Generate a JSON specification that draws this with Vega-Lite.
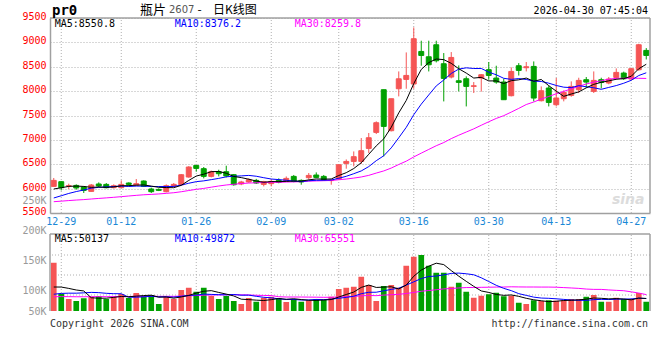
{
"$schema": "https://vega.github.io/schema/vega-lite/v6.json",
"width": 600, "height": 293,
"autosize": {"type": "none"},
"padding": {"left": 50, "top": 18, "right": 10, "bottom": 49},
"background": "#ffffff",
"config": {"view": {"stroke": null}, "text": {"font": "DejaVu Sans Mono", "fontSize": 10}, "axis": {"labelOverlap": false}},
"datasets": {
"e": [{"d": "2026-04-29"}],
"f": [{"d": "2025-12-26"}],
"g": [{"d":"2025-12-29"},{"d":"2026-01-12"},{"d":"2026-01-26"},{"d":"2026-02-09"},{"d":"2026-03-02"},{"d":"2026-03-16"},{"d":"2026-03-30"},{"d":"2026-04-13"},{"d":"2026-04-27"}],
"k": [
{"d":"2025-12-26","o":6046,"h":6218,"l":6040,"c":6169,"v":193000,"m5":5992,"m10":5808,"m30":5732,"vm5":96000,"vm10":67000,"vm30":57000},
{"d":"2025-12-29","o":6142,"h":6150,"l":5964,"c":6019,"v":69000,"m5":6018,"m10":5854,"m30":5743,"vm5":95800,"vm10":70300,"vm30":57600},
{"d":"2025-12-30","o":6055,"h":6101,"l":5992,"c":6060,"v":48000,"m5":6046,"m10":5901,"m30":5755,"vm5":90400,"vm10":71300,"vm30":57400},
{"d":"2025-12-31","o":6066,"h":6087,"l":5978,"c":6013,"v":40000,"m5":6052,"m10":5940,"m30":5766,"vm5":84000,"vm10":71300,"vm30":57000},
{"d":"2026-01-05","o":6033,"h":6046,"l":5910,"c":5964,"v":51000,"m5":6045,"m10":5972,"m30":5775,"vm5":80200,"vm10":72600,"vm30":57000},
{"d":"2026-01-06","o":5943,"h":6095,"l":5940,"c":6074,"v":57000,"m5":6026,"m10":6009,"m30":5787,"vm5":53000,"vm10":74500,"vm30":57200},
{"d":"2026-01-07","o":6095,"h":6128,"l":6033,"c":6054,"v":60000,"m5":6033,"m10":6026,"m30":5799,"vm5":51200,"vm10":73500,"vm30":57400},
{"d":"2026-01-08","o":6087,"h":6115,"l":6005,"c":6019,"v":48000,"m5":6025,"m10":6036,"m30":5810,"vm5":51200,"vm10":70800,"vm30":57300},
{"d":"2026-01-09","o":6019,"h":6087,"l":6005,"c":6060,"v":57000,"m5":6034,"m10":6043,"m30":5822,"vm5":54600,"vm10":69300,"vm30":57500},
{"d":"2026-01-12","o":6019,"h":6169,"l":6010,"c":6087,"v":68000,"m5":6059,"m10":6052,"m30":5835,"vm5":58000,"vm10":69100,"vm30":58000},
{"d":"2026-01-13","o":6115,"h":6128,"l":6060,"c":6087,"v":52000,"m5":6061,"m10":6044,"m30":5849,"vm5":57000,"vm10":55000,"vm30":58000},
{"d":"2026-01-14","o":6074,"h":6197,"l":6070,"c":6101,"v":72000,"m5":6071,"m10":6052,"m30":5862,"vm5":59400,"vm10":55300,"vm30":58700},
{"d":"2026-01-15","o":6156,"h":6169,"l":6033,"c":6046,"v":60000,"m5":6076,"m10":6051,"m30":5874,"vm5":61800,"vm10":56500,"vm30":58900},
{"d":"2026-01-16","o":5992,"h":6019,"l":5910,"c":5937,"v":64000,"m5":6052,"m10":6043,"m30":5882,"vm5":63200,"vm10":58900,"vm30":59300},
{"d":"2026-01-19","o":5984,"h":6005,"l":5950,"c":5964,"v":28000,"m5":6027,"m10":6043,"m30":5891,"vm5":55200,"vm10":56600,"vm30":58500},
{"d":"2026-01-20","o":5937,"h":6087,"l":5923,"c":6060,"v":57000,"m5":6022,"m10":6042,"m30":5903,"vm5":56200,"vm10":56600,"vm30":58700},
{"d":"2026-01-21","o":6046,"h":6115,"l":6030,"c":6087,"v":48000,"m5":6019,"m10":6045,"m30":5916,"vm5":51400,"vm10":55400,"vm30":58600},
{"d":"2026-01-22","o":6080,"h":6300,"l":6075,"c":6285,"v":84000,"m5":6067,"m10":6072,"m30":5936,"vm5":56200,"vm10":59000,"vm30":59600},
{"d":"2026-01-23","o":6238,"h":6460,"l":6225,"c":6443,"v":93000,"m5":6168,"m10":6110,"m30":5961,"vm5":62000,"vm10":62600,"vm30":61000},
{"d":"2026-01-26","o":6476,"h":6480,"l":6347,"c":6415,"v":77000,"m5":6258,"m10":6143,"m30":5985,"vm5":71800,"vm10":63500,"vm30":61800},
{"d":"2026-01-27","o":6409,"h":6443,"l":6210,"c":6251,"v":93000,"m5":6296,"m10":6159,"m30":6004,"vm5":79000,"vm10":67600,"vm30":63200},
{"d":"2026-01-28","o":6251,"h":6370,"l":6230,"c":6347,"v":60000,"m5":6348,"m10":6184,"m30":6030,"vm5":81400,"vm10":66400,"vm30":64000},
{"d":"2026-01-29","o":6347,"h":6388,"l":6251,"c":6306,"v":48000,"m5":6352,"m10":6210,"m30":6054,"vm5":74200,"vm10":65200,"vm30":64300},
{"d":"2026-01-30","o":6347,"h":6470,"l":6230,"c":6260,"v":60000,"m5":6316,"m10":6242,"m30":6075,"vm5":67600,"vm10":64800,"vm30":65000},
{"d":"2026-02-02","o":6286,"h":6300,"l":6060,"c":6080,"v":40000,"m5":6249,"m10":6254,"m30":6089,"vm5":60200,"vm10":66000,"vm30":65100},
{"d":"2026-02-03","o":6095,"h":6160,"l":6070,"c":6136,"v":28000,"m5":6226,"m10":6261,"m30":6104,"vm5":47200,"vm10":63100,"vm30":64700},
{"d":"2026-02-04","o":6136,"h":6210,"l":6120,"c":6183,"v":52000,"m5":6193,"m10":6271,"m30":6114,"vm5":45600,"vm10":63500,"vm30":64100},
{"d":"2026-02-05","o":6169,"h":6200,"l":6095,"c":6115,"v":37000,"m5":6155,"m10":6254,"m30":6120,"vm5":43400,"vm10":58800,"vm30":62900},
{"d":"2026-02-06","o":6087,"h":6160,"l":6046,"c":6142,"v":53000,"m5":6131,"m10":6224,"m30":6125,"vm5":42000,"vm10":54800,"vm30":62200},
{"d":"2026-02-09","o":6101,"h":6190,"l":6046,"c":6148,"v":57000,"m5":6145,"m10":6197,"m30":6130,"vm5":45400,"vm10":52800,"vm30":61800},
{"d":"2026-02-10","o":6169,"h":6210,"l":6110,"c":6128,"v":51000,"m5":6143,"m10":6185,"m30":6129,"vm5":50000,"vm10":48600,"vm30":57100},
{"d":"2026-02-11","o":6148,"h":6250,"l":6140,"c":6210,"v":36000,"m5":6149,"m10":6171,"m30":6135,"vm5":46800,"vm10":46200,"vm30":56000},
{"d":"2026-02-12","o":6251,"h":6280,"l":6130,"c":6148,"v":48000,"m5":6155,"m10":6155,"m30":6138,"vm5":49000,"vm10":46200,"vm30":56000},
{"d":"2026-02-13","o":6169,"h":6190,"l":6080,"c":6136,"v":37000,"m5":6154,"m10":6143,"m30":6142,"vm5":45800,"vm10":43900,"vm30":55900},
{"d":"2026-02-24","o":6224,"h":6320,"l":6183,"c":6271,"v":43000,"m5":6179,"m10":6162,"m30":6153,"vm5":43000,"vm10":44200,"vm30":55600},
{"d":"2026-02-25","o":6279,"h":6333,"l":6220,"c":6230,"v":48000,"m5":6199,"m10":6171,"m30":6158,"vm5":42400,"vm10":46200,"vm30":55300},
{"d":"2026-02-26","o":6251,"h":6280,"l":6160,"c":6183,"v":44000,"m5":6194,"m10":6172,"m30":6162,"vm5":44000,"vm10":45400,"vm30":54800},
{"d":"2026-02-27","o":6165,"h":6180,"l":6080,"c":6172,"v":57000,"m5":6198,"m10":6177,"m30":6167,"vm5":45800,"vm10":47400,"vm30":55100},
{"d":"2026-03-02","o":6197,"h":6491,"l":6190,"c":6491,"v":88000,"m5":6269,"m10":6212,"m30":6182,"vm5":56000,"vm10":50900,"vm30":56100},
{"d":"2026-03-03","o":6517,"h":6599,"l":6409,"c":6558,"v":93000,"m5":6327,"m10":6253,"m30":6197,"vm5":66000,"vm10":54500,"vm30":56900},
{"d":"2026-03-04","o":6558,"h":6763,"l":6456,"c":6655,"v":97000,"m5":6412,"m10":6306,"m30":6216,"vm5":75800,"vm10":59100,"vm30":58400},
{"d":"2026-03-05","o":6558,"h":7038,"l":6505,"c":6778,"v":137000,"m5":6531,"m10":6363,"m30":6239,"vm5":94400,"vm10":69200,"vm30":60600},
{"d":"2026-03-06","o":6825,"h":7141,"l":6731,"c":7044,"v":104000,"m5":6705,"m10":6452,"m30":6272,"vm5":103800,"vm10":74800,"vm30":62100},
{"d":"2026-03-09","o":7153,"h":7380,"l":7120,"c":7352,"v":40000,"m5":6877,"m10":6573,"m30":6319,"vm5":94200,"vm10":75100,"vm30":61300},
{"d":"2026-03-10","o":8029,"h":8029,"l":6661,"c":7276,"v":100000,"m5":7021,"m10":6674,"m30":6363,"vm5":95600,"vm10":80800,"vm30":63700},
{"d":"2026-03-11","o":7188,"h":7844,"l":7174,"c":7844,"v":104000,"m5":7259,"m10":6836,"m30":6422,"vm5":97000,"vm10":86400,"vm30":65200},
{"d":"2026-03-12","o":8049,"h":8404,"l":7892,"c":8253,"v":93000,"m5":7554,"m10":7043,"m30":6495,"vm5":88200,"vm10":91300,"vm30":66700},
{"d":"2026-03-13","o":8240,"h":8794,"l":8049,"c":8322,"v":181000,"m5":7809,"m10":7257,"m30":6563,"vm5":103600,"vm10":103700,"vm30":70000},
{"d":"2026-03-16","o":8146,"h":9307,"l":8049,"c":9075,"v":217000,"m5":8154,"m10":7516,"m30":6650,"vm5":139000,"vm10":116600,"vm30":74100},
{"d":"2026-03-17","o":8814,"h":9034,"l":8521,"c":8732,"v":224000,"m5":8445,"m10":7733,"m30":6728,"vm5":163800,"vm10":129700,"vm30":79000},
{"d":"2026-03-18","o":8705,"h":9034,"l":8404,"c":8541,"v":181000,"m5":8585,"m10":7922,"m30":6804,"vm5":179200,"vm10":138100,"vm30":81900},
{"d":"2026-03-19","o":8951,"h":9034,"l":8589,"c":8623,"v":153000,"m5":8659,"m10":8107,"m30":6880,"vm5":191200,"vm10":139700,"vm30":85000},
{"d":"2026-03-20","o":8562,"h":8781,"l":7789,"c":8261,"v":153000,"m5":8646,"m10":8228,"m30":6945,"vm5":185600,"vm10":144600,"vm30":88500},
{"d":"2026-03-23","o":8289,"h":8801,"l":8261,"c":8691,"v":97000,"m5":8570,"m10":8362,"m30":7026,"vm5":161600,"vm10":150300,"vm30":89800},
{"d":"2026-03-24","o":8213,"h":8527,"l":7994,"c":8179,"v":113000,"m5":8459,"m10":8452,"m30":7096,"vm5":139400,"vm10":151600,"vm30":92200},
{"d":"2026-03-25","o":8254,"h":8302,"l":7686,"c":8097,"v":77000,"m5":8370,"m10":8478,"m30":7161,"vm5":118600,"vm10":148900,"vm30":93800},
{"d":"2026-03-26","o":8097,"h":8186,"l":7961,"c":8110,"v":53000,"m5":8268,"m10":8464,"m30":7226,"vm5":98600,"vm10":144900,"vm30":93900},
{"d":"2026-03-27","o":8269,"h":8350,"l":7990,"c":8336,"v":61000,"m5":8283,"m10":8465,"m30":7300,"vm5":80200,"vm10":132900,"vm30":94700},
{"d":"2026-03-30","o":8440,"h":8597,"l":8234,"c":8322,"v":67000,"m5":8209,"m10":8390,"m30":7372,"vm5":74200,"vm10":117900,"vm30":95100},
{"d":"2026-03-31","o":8268,"h":8521,"l":8152,"c":8186,"v":73000,"m5":8210,"m10":8335,"m30":7440,"vm5":66200,"vm10":102800,"vm30":95700},
{"d":"2026-04-01","o":8187,"h":8255,"l":7824,"c":7824,"v":59000,"m5":8156,"m10":8263,"m30":7497,"vm5":62600,"vm10":90600,"vm30":95900},
{"d":"2026-04-02","o":7906,"h":8487,"l":7892,"c":8404,"v":61000,"m5":8214,"m10":8241,"m30":7570,"vm5":64200,"vm10":81400,"vm30":96800},
{"d":"2026-04-03","o":8521,"h":8575,"l":8320,"c":8425,"v":33000,"m5":8232,"m10":8258,"m30":7646,"vm5":58600,"vm10":69400,"vm30":96300},
{"d":"2026-04-07","o":8480,"h":8597,"l":8404,"c":8500,"v":28000,"m5":8268,"m10":8239,"m30":7725,"vm5":50800,"vm10":62500,"vm30":96000},
{"d":"2026-04-08","o":8507,"h":8609,"l":7789,"c":7858,"v":43000,"m5":8202,"m10":8206,"m30":7777,"vm5":44800,"vm10":55500,"vm30":96000},
{"d":"2026-04-09","o":7803,"h":8097,"l":7789,"c":8008,"v":40000,"m5":8239,"m10":8198,"m30":7837,"vm5":41000,"vm10":51800,"vm30":95700},
{"d":"2026-04-10","o":8064,"h":8111,"l":7686,"c":7768,"v":43000,"m5":8112,"m10":8163,"m30":7890,"vm5":37400,"vm10":50800,"vm30":95700},
{"d":"2026-04-13","o":7721,"h":8269,"l":7686,"c":7859,"v":41000,"m5":7999,"m10":8116,"m30":7946,"vm5":39000,"vm10":48800,"vm30":95100},
{"d":"2026-04-14","o":7844,"h":8015,"l":7790,"c":7974,"v":43000,"m5":7893,"m10":8081,"m30":7995,"vm5":42000,"vm10":46400,"vm30":93600},
{"d":"2026-04-15","o":7912,"h":8200,"l":7885,"c":8097,"v":48000,"m5":7941,"m10":8072,"m30":8046,"vm5":43000,"vm10":43900,"vm30":92100},
{"d":"2026-04-16","o":8029,"h":8275,"l":7960,"c":8220,"v":48000,"m5":7984,"m10":8112,"m30":8099,"vm5":44600,"vm10":42800,"vm30":90500},
{"d":"2026-04-17","o":8234,"h":8289,"l":8070,"c":8186,"v":57000,"m5":8067,"m10":8090,"m30":8146,"vm5":47400,"vm10":42400,"vm30":87800},
{"d":"2026-04-20","o":7994,"h":8404,"l":7961,"c":8220,"v":64000,"m5":8139,"m10":8069,"m30":8185,"vm5":52000,"vm10":45500,"vm30":86500},
{"d":"2026-04-21","o":8234,"h":8275,"l":8056,"c":8179,"v":37000,"m5":8180,"m10":8037,"m30":8212,"vm5":50800,"vm10":46400,"vm30":86400},
{"d":"2026-04-22","o":8166,"h":8290,"l":8140,"c":8248,"v":37000,"m5":8211,"m10":8076,"m30":8245,"vm5":48600,"vm10":45800,"vm30":84300},
{"d":"2026-04-23","o":8281,"h":8466,"l":8234,"c":8384,"v":53000,"m5":8243,"m10":8114,"m30":8263,"vm5":49600,"vm10":47100,"vm30":82600},
{"d":"2026-04-24","o":8371,"h":8400,"l":8230,"c":8254,"v":48000,"m5":8257,"m10":8162,"m30":8263,"vm5":47800,"vm10":47600,"vm30":81100},
{"d":"2026-04-27","o":8248,"h":8480,"l":8230,"c":8460,"v":48000,"m5":8305,"m10":8222,"m30":8267,"vm5":44600,"vm10":48300,"vm30":76700},
{"d":"2026-04-28","o":8439,"h":8971,"l":8420,"c":8951,"v":72000,"m5":8459,"m10":8320,"m30":8263,"vm5":51600,"vm10":51200,"vm30":71800},
{"d":"2026-04-29","o":8835,"h":8883,"l":8650,"c":8732,"v":37000,"m5":8551,"m10":8376,"m30":8260,"vm5":50100,"vm10":49900,"vm30":65600}
]},
"layer": [
{"layer": [
 {"data": {"name": "g"}, "mark": {"type": "rule", "color": "#b0b0b0", "strokeDash": [1, 2], "strokeWidth": 1},
  "encoding": {"x": {"field": "d", "type": "ordinal"},
   "y": {"datum": 5500, "type": "quantitative", "scale": {"domain": [5500, 9500], "range": [195, 0], "nice": false, "zero": false},
    "axis": {"values": [5500, 6000, 6500, 7000, 7500, 8000, 8500, 9000, 9500], "tickCount": 30, "format": "d", "labelOverlap": false,
     "orient": "left", "title": null, "ticks": false,
     "labelPadding": 4, "labelColor": "#ff0000", "labelFont": "DejaVu Sans Mono", "labelFontSize": 10, "labelOffset": -1.5,
     "grid": true, "gridColor": "#b0b0b0", "gridDash": [1, 2], "domainColor": "#a0a0a0", "domainWidth": 1.5}},
   "y2": {"datum": 9500}}},
 {"data": {"name": "k"}, "mark": {"type": "rule", "strokeWidth": 1},
  "encoding": {
   "x": {"field": "d", "type": "ordinal", "scale": {"paddingInner": 0, "paddingOuter": 0},
    "axis": {"values": ["2025-12-29","2026-01-12","2026-01-26","2026-02-09","2026-03-02","2026-03-16","2026-03-30","2026-04-13","2026-04-27"],
     "labelExpr": "substring(datum.value, 5)", "orient": "bottom", "offset": -98, "ticks": false, "grid": false,
     "domainColor": "#a0a0a0", "domainWidth": 1.5, "labelColor": "#1a88d6", "labelFont": "DejaVu Sans Mono", "labelFontSize": 10,
     "labelPadding": 3, "labelAngle": 0, "labelAlign": "center", "labelBaseline": "top", "labelOverlap": false, "title": null}},
   "y": {"field": "l", "type": "quantitative"},
   "y2": {"field": "h"},
   "color": {"condition": {"test": "datum.c >= datum.o", "value": "#f55555"}, "value": "#00a000"}}},
 {"data": {"name": "k"}, "mark": {"type": "bar", "width": {"band": 0.66}, "strokeWidth": 1},
  "encoding": {"x": {"field": "d", "type": "ordinal"}, "y": {"field": "o", "type": "quantitative"}, "y2": {"field": "c"},
   "color": {"condition": {"test": "datum.c >= datum.o", "value": "#f55555"}, "value": "#00a000"},
   "stroke": {"condition": {"test": "datum.c >= datum.o", "value": "#f55555"}, "value": "#00a000"}}},
 {"data": {"name": "k"}, "mark": {"type": "line", "color": "#ff00ff", "strokeWidth": 1},
  "encoding": {"x": {"field": "d", "type": "ordinal"}, "y": {"field": "m30", "type": "quantitative"}}},
 {"data": {"name": "k"}, "mark": {"type": "line", "color": "#0000ff", "strokeWidth": 1},
  "encoding": {"x": {"field": "d", "type": "ordinal"}, "y": {"field": "m10", "type": "quantitative"}}},
 {"data": {"name": "k"}, "mark": {"type": "line", "color": "#000000", "strokeWidth": 1},
  "encoding": {"x": {"field": "d", "type": "ordinal"}, "y": {"field": "m5", "type": "quantitative"}}},
 {"data": {"name": "e"}, "mark": {"type": "rule", "color": "#a0a0a0", "strokeWidth": 1.5},
  "encoding": {"y": {"datum": 9500, "type": "quantitative"}}},
 {"data": {"name": "e"}, "mark": {"type": "rule", "color": "#a0a0a0", "strokeWidth": 1.5},
  "encoding": {"x": {"field": "d", "type": "ordinal", "bandPosition": 1}, "y": {"datum": 5500, "type": "quantitative"}, "y2": {"datum": 9500}}},
 {"data": {"name": "e"}, "mark": {"type": "text", "text": "MA5:8550.8", "align": "left", "baseline": "middle", "dx": 1, "color": "#000000"},
  "encoding": {"x": {"datum": "2025-12-26", "type": "ordinal"}, "y": {"datum": 9377, "type": "quantitative"}}},
 {"data": {"name": "e"}, "mark": {"type": "text", "text": "MA10:8376.2", "align": "left", "baseline": "middle", "dx": 1, "color": "#0000ff"},
  "encoding": {"x": {"datum": "2026-01-21", "type": "ordinal"}, "y": {"datum": 9377, "type": "quantitative"}}},
 {"data": {"name": "e"}, "mark": {"type": "text", "text": "MA30:8259.8", "align": "left", "baseline": "middle", "dx": 1, "color": "#ff00ff"},
  "encoding": {"x": {"datum": "2026-02-12", "type": "ordinal"}, "y": {"datum": 9377, "type": "quantitative"}}},
 {"data": {"name": "e"}, "mark": {"type": "text", "text": "pr0", "align": "left", "baseline": "middle", "dx": -1.75, "fontSize": 14, "fontWeight": "bold", "color": "#000000"},
  "encoding": {"x": {"datum": "2025-12-26", "type": "ordinal"}, "y": {"datum": 9640, "type": "quantitative"}}},
 {"data": {"name": "e"}, "mark": {"type": "text", "text": "瓶片", "align": "left", "baseline": "middle", "dx": -3.75, "font": "Noto Sans CJK SC", "fontSize": 13, "color": "#000000"},
  "encoding": {"x": {"datum": "2026-01-15", "type": "ordinal"}, "y": {"datum": 9664, "type": "quantitative"}}},
 {"data": {"name": "e"}, "mark": {"type": "text", "text": "2607", "align": "left", "baseline": "middle", "dx": 2.75, "font": "DejaVu Sans", "fontSize": 10, "color": "#555555"},
  "encoding": {"x": {"datum": "2026-01-20", "type": "ordinal"}, "y": {"datum": 9664, "type": "quantitative"}}},
 {"data": {"name": "e"}, "mark": {"type": "text", "text": "-", "align": "center", "baseline": "middle", "dx": 3.25, "font": "Noto Sans CJK SC", "fontSize": 12, "color": "#000000"},
  "encoding": {"x": {"datum": "2026-01-26", "type": "ordinal"}, "y": {"datum": 9664, "type": "quantitative"}}},
 {"data": {"name": "e"}, "mark": {"type": "text", "text": "日K线图", "align": "left", "baseline": "middle", "dx": 1.75, "font": "Noto Sans CJK SC", "fontSize": 12, "color": "#000000"},
  "encoding": {"x": {"datum": "2026-01-28", "type": "ordinal"}, "y": {"datum": 9664, "type": "quantitative"}}},
 {"data": {"name": "e"}, "mark": {"type": "text", "text": "2026-04-30 07:45:04", "align": "right", "baseline": "middle", "dx": 1.75, "color": "#000000"},
  "encoding": {"x": {"datum": "2026-04-29", "type": "ordinal"}, "y": {"datum": 9635, "type": "quantitative"}}},
 {"data": {"name": "e"}, "mark": {"type": "text", "text": "sina", "align": "center", "baseline": "middle", "dx": -3, "font": "DejaVu Sans", "fontSize": 14, "fontStyle": "italic", "fontWeight": "bold", "color": "#dcdcdc"},
  "encoding": {"x": {"datum": "2026-04-27", "type": "ordinal"}, "y": {"datum": 5767, "type": "quantitative"}}}
]},
{"layer": [
 {"data": {"name": "g"}, "mark": {"type": "rule", "color": "#b0b0b0", "strokeDash": [1, 2], "strokeWidth": 1},
  "encoding": {"x": {"field": "d", "type": "ordinal"}, "y": {"datum": 0, "type": "quantitative"}, "y2": {"datum": 308000}}},
 {"data": {"name": "e"}, "mark": {"type": "rule", "color": "#b0b0b0", "strokeDash": [1, 2], "strokeWidth": 1},
  "encoding": {"y": {"datum": 64000, "type": "quantitative"}}},
 {"data": {"name": "e"}, "mark": {"type": "rule", "color": "#b0b0b0", "strokeDash": [1, 2], "strokeWidth": 1},
  "encoding": {"y": {"datum": 144000, "type": "quantitative"}}},
 {"data": {"name": "e"}, "mark": {"type": "rule", "color": "#b0b0b0", "strokeDash": [1, 2], "strokeWidth": 1},
  "encoding": {"y": {"datum": 224000, "type": "quantitative"}}},
 {"data": {"name": "k"}, "mark": {"type": "bar", "width": {"band": 0.76}},
  "encoding": {"x": {"field": "d", "type": "ordinal"},
   "y": {"field": "v", "type": "quantitative", "scale": {"domain": [0, 460000], "range": [293, 178], "nice": false, "zero": true},
    "axis": {"values": [0, 81200, 204000, 322800, 444000], "tickCount": 30,
     "labelExpr": "['50K','100K','150K','200K','250K'][indexof([0,81200,204000,322800,444000], datum.value)]",
     "orient": "left", "title": null, "ticks": false, "grid": false, "domain": false, "labelOverlap": false, "labelPadding": 4, "labelColor": "#999999",
     "labelFont": "DejaVu Sans Mono", "labelFontSize": 10}},
   "color": {"condition": {"test": "datum.c >= datum.o", "value": "#f55555"}, "value": "#00a000"}}},
 {"data": {"name": "k"}, "mark": {"type": "line", "color": "#ff00ff", "strokeWidth": 1},
  "encoding": {"x": {"field": "d", "type": "ordinal"}, "y": {"field": "vm30", "type": "quantitative"}}},
 {"data": {"name": "k"}, "mark": {"type": "line", "color": "#0000ff", "strokeWidth": 1},
  "encoding": {"x": {"field": "d", "type": "ordinal"}, "y": {"field": "vm10", "type": "quantitative"}}},
 {"data": {"name": "k"}, "mark": {"type": "line", "color": "#000000", "strokeWidth": 1},
  "encoding": {"x": {"field": "d", "type": "ordinal"}, "y": {"field": "vm5", "type": "quantitative"}}},
 {"data": {"name": "e"}, "mark": {"type": "rule", "color": "#a0a0a0", "strokeWidth": 1.5},
  "encoding": {"y": {"datum": 308000, "type": "quantitative"}}},
 {"data": {"name": "e"}, "mark": {"type": "rule", "color": "#a0a0a0", "strokeWidth": 1.5},
  "encoding": {"x": {"field": "d", "type": "ordinal", "bandPosition": 1}, "y": {"datum": 0, "type": "quantitative"}, "y2": {"datum": 308000}}},
 {"data": {"name": "f"}, "mark": {"type": "rule", "color": "#a0a0a0", "strokeWidth": 1.5},
  "encoding": {"x": {"field": "d", "type": "ordinal", "bandPosition": 0}, "y": {"datum": 0, "type": "quantitative"}, "y2": {"datum": 308000}}},
 {"data": {"name": "e"}, "mark": {"type": "text", "text": "MA5:50137", "align": "left", "baseline": "middle", "dx": 1, "color": "#000000"},
  "encoding": {"x": {"datum": "2025-12-26", "type": "ordinal"}, "y": {"datum": 288000, "type": "quantitative"}}},
 {"data": {"name": "e"}, "mark": {"type": "text", "text": "MA10:49872", "align": "left", "baseline": "middle", "dx": 1, "color": "#0000ff"},
  "encoding": {"x": {"datum": "2026-01-21", "type": "ordinal"}, "y": {"datum": 288000, "type": "quantitative"}}},
 {"data": {"name": "e"}, "mark": {"type": "text", "text": "MA30:65551", "align": "left", "baseline": "middle", "dx": 1, "color": "#ff00ff"},
  "encoding": {"x": {"datum": "2026-02-12", "type": "ordinal"}, "y": {"datum": 288000, "type": "quantitative"}}},
 {"data": {"name": "e"}, "mark": {"type": "text", "text": "Copyright 2026 SINA.COM", "align": "left", "baseline": "middle", "dx": -3.75, "color": "#333333"},
  "encoding": {"x": {"datum": "2025-12-26", "type": "ordinal"}, "y": {"datum": -52000, "type": "quantitative"}}},
 {"data": {"name": "e"}, "mark": {"type": "text", "text": "http://finance.sina.com.cn", "align": "right", "baseline": "middle", "dx": 1.75, "color": "#333333"},
  "encoding": {"x": {"datum": "2026-04-29", "type": "ordinal"}, "y": {"datum": -52000, "type": "quantitative"}}}
]}
],
"resolve": {"scale": {"y": "independent"}, "axis": {"y": "independent"}}
}
